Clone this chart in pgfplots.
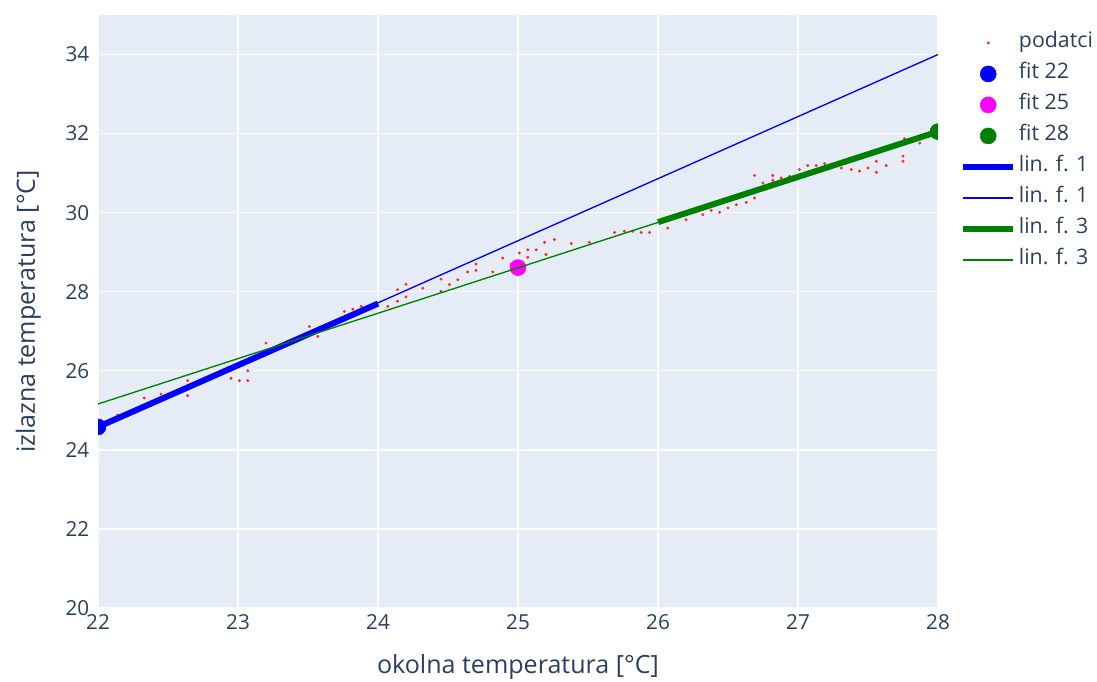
\documentclass[border=0pt]{standalone}
\usepackage{fontspec}
\setmainfont{Open Sans}
\usepackage{pgfplots}
\pgfplotsset{compat=1.18}
\definecolor{bg}{HTML}{E5ECF6}
\definecolor{txt}{HTML}{2A3F5F}
\definecolor{pgreen}{RGB}{0,128,0}
\definecolor{pblue}{RGB}{0,0,255}
\definecolor{pmag}{RGB}{255,0,255}
\definecolor{pred}{RGB}{255,40,40}
\pgfplotsset{
  markleg/.style={legend image code/.code={\draw[##1] plot coordinates {(18.75pt,0pt)};}},
  lineleg/.style={legend image code/.code={\draw[##1] (0pt,0pt) -- (37.5pt,0pt);}},
}
\newcommand{\lt}[1]{\textcolor{txt}{#1}}
\begin{document}
\begin{tikzpicture}
\useasboundingbox (0,0) rectangle (822.75pt,511.5pt);
\begin{axis}[
  at={(73.5pt,55.5pt)}, anchor=south west,
  scale only axis, width=630pt, height=444.75pt,
  xmin=22, xmax=28, ymin=20, ymax=35,
  xtick={22,23,...,28}, ytick={20,22,...,34},
  axis background/.style={fill=bg},
  axis line style={draw=none},
  major tick length=0pt,
  grid=major, grid style={white, line width=1pt},
  tick label style={font=\fontsize{15.5}{17}\selectfont, text=txt},
  yticklabel style={xshift=-3pt},
  xticklabel style={yshift=-1pt},
  /pgf/number format/assume math mode=true,
  xlabel={okolna temperatura [°C]},
  ylabel={izlazna temperatura [°C]},
  every axis x label/.style={at={(axis description cs:0.5,-0.1)}, anchor=center},
  every axis y label/.style={at={(axis description cs:-0.083,0.5)}, rotate=90, anchor=center},
  label style={font=\fontsize{18.8}{20}\selectfont, text=txt},
  clip marker paths=true,
  legend cell align=left,
  legend style={at={(axis description cs:1,1)}, anchor=north west, xshift=16.5pt, yshift=-13.5pt,
    draw=none, fill=none, inner sep=0pt, row sep=8.75pt, column sep=2pt,
    font=\fontsize{16}{18}\selectfont,
    nodes={inner sep=0pt, text height=11pt, text depth=3.5pt}},
]
\addplot[only marks, mark=*, mark size=0.9pt, draw=pred, fill=pred, markleg]
  coordinates {
(22.14,24.88) (22.33,25.31) (22.45,25.41) (22.53,25.42) (22.64,25.75) (22.64,25.37)
(22.95,25.81) (23.01,25.75) (23.07,26.00) (23.07,25.75) (23.20,26.70)
(23.51,27.12) (23.57,26.87) (23.76,27.50) (23.82,27.56) (23.88,27.63) (24.07,27.63)
(24.14,27.76) (24.14,28.05) (24.20,27.87) (24.20,28.19) (24.32,28.09) (24.45,28.01)
(24.45,28.32) (24.51,28.18) (24.57,28.30) (24.64,28.50) (24.70,28.54) (24.70,28.70)
(24.82,28.50) (24.89,28.85) (24.95,28.70) (25.01,28.98) (25.07,29.06) (25.07,28.87)
(25.13,29.06) (25.19,29.25) (25.20,28.94) (25.26,29.32) (25.38,29.22) (25.51,29.25)
(25.69,29.50) (25.76,29.53) (25.82,29.53) (25.88,29.50) (25.94,29.50) (26.07,29.61)
(26.20,29.82) (26.32,29.95) (26.38,30.06) (26.44,30.01) (26.50,30.12) (26.56,30.20)
(26.63,30.26) (26.69,30.37) (26.69,30.94) (26.75,30.75) (26.82,30.94) (26.82,30.82)
(26.88,30.88) (26.94,30.92) (27.01,31.09) (27.07,31.19) (27.13,31.19) (27.19,31.24)
(27.31,31.13) (27.38,31.09) (27.44,31.05) (27.50,31.13) (27.56,31.02) (27.56,31.30)
(27.63,31.19) (27.75,31.30) (27.75,31.43) (27.76,31.87) (27.87,31.89) (27.87,31.76)
(27.94,31.97)
};
\addlegendentry{\lt{podatci}}
\addplot[only marks, mark=*, mark size=6pt, draw=pblue, fill=pblue, markleg]
  coordinates {(22,24.58)};
\addlegendentry{\lt{fit 22}}
\addplot[only marks, mark=*, mark size=6pt, draw=pmag, fill=pmag, markleg]
  coordinates {(25,28.61)};
\addlegendentry{\lt{fit 25}}
\addplot[only marks, mark=*, mark size=6pt, draw=pgreen, fill=pgreen, markleg]
  coordinates {(28,32.05)};
\addlegendentry{\lt{fit 28}}
\addplot[draw=pblue, line width=4.5pt, no marks, lineleg]
  coordinates {(22,24.58) (24,27.70)};
\addlegendentry{\lt{lin. f. 1}}
\addplot[draw=pblue, line width=1pt, no marks, lineleg]
  coordinates {(22,24.58) (28,34.00)};
\addlegendentry{\lt{lin. f. 1}}
\addplot[draw=pgreen, line width=4.5pt, no marks, lineleg]
  coordinates {(26,29.76) (28,32.05)};
\addlegendentry{\lt{lin. f. 3}}
\addplot[draw=pgreen, line width=1pt, no marks, lineleg]
  coordinates {(22,25.16) (28,32.05)};
\addlegendentry{\lt{lin. f. 3}}
\end{axis}
\end{tikzpicture}
\end{document}
